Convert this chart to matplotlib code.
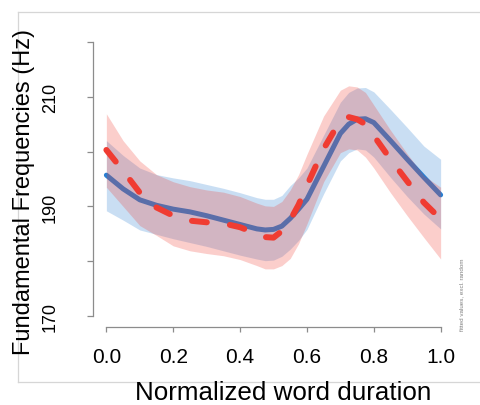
import matplotlib
matplotlib.use("Agg")
import matplotlib.pyplot as plt
from matplotlib.lines import Line2D

plt.rcParams['font.family'] = ['Liberation Sans', 'DejaVu Sans']

# ---- data ----
x = [0.00, 0.05, 0.10, 0.15, 0.20, 0.25, 0.30, 0.35, 0.40, 0.45, 0.475, 0.50,
     0.525, 0.55, 0.575, 0.60, 0.65, 0.70, 0.725, 0.75, 0.775, 0.80, 0.85, 0.90, 0.95, 1.00]

blue_fit = [195.7, 193.2, 191.2, 190.2, 189.5, 189.0, 188.3, 187.5, 186.7, 185.9, 185.7, 185.8,
            186.4, 187.8, 189.5, 191.3, 197.3, 203.3, 205.0, 205.9, 206.0, 205.3, 202.0, 198.6, 195.3, 192.1]
blue_hi = [202.0, 199.3, 197.0, 195.8, 195.2, 194.7, 194.0, 193.3, 192.5, 191.6, 191.3, 191.3,
           192.0, 193.8, 195.2, 197.0, 203.0, 209.0, 210.8, 211.6, 211.7, 210.9, 207.7, 204.4, 201.0, 198.6]
blue_lo = [189.2, 187.5, 185.7, 184.9, 184.1, 183.4, 182.7, 181.9, 181.1, 180.4, 180.1, 180.2,
           180.9, 182.2, 183.8, 185.8, 192.3, 198.3, 199.8, 200.5, 200.3, 199.0, 195.3, 191.8, 188.6, 185.9]

red_fit = [200.3, 196.5, 192.5, 189.8, 188.3, 187.4, 187.1, 186.9, 186.2, 185.0, 184.4, 184.3,
           185.5, 187.5, 190.3, 193.8, 200.5, 205.7, 206.3, 205.9, 205.0, 202.9, 198.6, 194.6, 190.7, 187.7]
red_hi = [206.9, 202.0, 198.3, 195.8, 194.5, 193.6, 193.0, 192.6, 191.8, 190.6, 190.1, 190.0,
          190.9, 193.0, 195.8, 199.5, 206.5, 211.2, 212.0, 211.8, 210.8, 208.5, 203.9, 199.6, 195.6, 193.5]
red_lo = [193.5, 190.0, 186.5, 184.7, 182.8, 181.9, 181.4, 181.0, 180.3, 179.2, 178.6, 178.6,
          179.2, 180.5, 183.2, 186.8, 194.5, 199.8, 200.5, 200.3, 199.0, 197.0, 192.5, 188.3, 184.3, 180.4]

x_ticks = [0.0, 0.2, 0.4, 0.6, 0.8, 1.0]
x_ticklabels = ['0.0', '0.2', '0.4', '0.6', '0.8', '1.0']
y_ticks = [170, 180, 190, 200, 210, 220]
y_ticklabels = ['170', '', '190', '', '210', '']

BLUE = '#287fd2'
RED = '#f03c32'

W, H = 480, 406
fig = plt.figure(figsize=(W / 100, H / 100), dpi=100)

def fx(px):
    return px / W

def fy(py):
    return (H - py) / H

ax = fig.add_axes([fx(93), fy(328), fx(454) - fx(93), fy(32) - fy(328)])
ax.set_xlim(-0.04, 1.04)
ax.set_ylim(170 - 11 / 5.48, 170 + 285 / 5.48)

ax.fill_between(x, blue_lo, blue_hi, color=BLUE, alpha=0.25, linewidth=0, zorder=1)
ax.plot(x, blue_fit, color=BLUE, lw=3.6, solid_capstyle='round', solid_joinstyle='round', zorder=2)
ax.fill_between(x, red_lo, red_hi, color=RED, alpha=0.25, linewidth=0, zorder=3)
ax.plot(x, red_fit, color=RED, lw=4.3, linestyle=(0, (2.5, 3.9)),
        dash_capstyle='round', dash_joinstyle='round', zorder=4)

for s in ['top', 'right']:
    ax.spines[s].set_visible(False)
ax.spines['left'].set_bounds(170, 220)
ax.spines['bottom'].set_bounds(0, 1)
for s in ['left', 'bottom']:
    ax.spines[s].set_color('#8c8c8c')
    ax.spines[s].set_linewidth(0.9)

ax.set_xticks(x_ticks)
ax.set_xticklabels(x_ticklabels)
ax.set_yticks(y_ticks)
ax.set_yticklabels(y_ticklabels)
ax.tick_params(axis='x', length=3.6, width=0.9, color='#8c8c8c', labelsize=15, pad=21.6)
ax.tick_params(axis='y', length=4.3, width=0.9, color='#8c8c8c', labelsize=13, pad=23)
for lab in ax.get_xticklabels():
    lab.set_va('baseline')
for lab in ax.get_yticklabels():
    lab.set_rotation(90)
    lab.set_rotation_mode('anchor')
    lab.set_ha('center')
    lab.set_va('baseline')

fig.text(fx(30), fy(192), 'Fundamental Frequencies (Hz)', rotation=90,
         rotation_mode='anchor', ha='center', va='baseline', fontsize=17)
fig.text(fx(283), fy(400), 'Normalized word duration', ha='center', va='baseline',
         fontsize=18.7)
fig.text(fx(462), fy(295), 'fitted values, excl. random', rotation=90,
         ha='center', va='center', fontsize=4.5, color='#808080')

# light frame around the figure area
fc = '#d6d6d6'
fig.add_artist(Line2D([fx(18), 1], [fy(13), fy(13)], color=fc, lw=0.9))
fig.add_artist(Line2D([fx(18), fx(18)], [fy(13), fy(383)], color=fc, lw=0.9))
fig.add_artist(Line2D([fx(18), 1], [fy(383), fy(383)], color=fc, lw=0.9))

fig.savefig('out.png', dpi=100)
